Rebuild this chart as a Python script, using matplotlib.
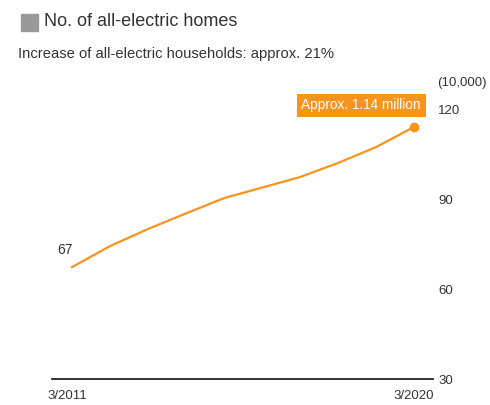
import matplotlib.pyplot as plt
import matplotlib.transforms as mtrans
from matplotlib.patches import Rectangle

years = [2011, 2012, 2013, 2014, 2015, 2016, 2017, 2018, 2019, 2020]
homes = [67.3, 74.3, 80.0, 85.2, 90.3, 93.8, 97.3, 102.0, 107.3, 114.0]
x_labels = ['3/2011', '3/2020']
y_ticks = [30, 60, 90, 120]

orange = '#F7941D'
text_col = '#333333'
plt.rcParams['font.family'] = ['Liberation Sans Narrow', 'Liberation Sans', 'DejaVu Sans']

fig = plt.figure(figsize=(4.9, 4.05), dpi=100)
ax = fig.add_axes([52 / 490, 26 / 405, 381 / 490, 285 / 405])

ax.plot(years, homes, color=orange, lw=1.6)
ax.plot(years[-1], homes[-1], 'o', color=orange, ms=6)

ax.set_xlim(2011 - 20 / 38, 2020 + 19 / 38)
ax.set_ylim(30, 125)

for s in ['top', 'left', 'right']:
    ax.spines[s].set_visible(False)
ax.spines['bottom'].set_color('#222222')
ax.spines['bottom'].set_linewidth(1.3)

ax.yaxis.tick_right()
ax.set_yticks(y_ticks)
ax.set_yticklabels([str(v) for v in y_ticks], fontsize=9.5, color=text_col)
ax.tick_params(axis='y', length=0, pad=3.6)
ax.set_xticks([years[0], years[-1]])
ax.set_xticklabels(x_labels, fontsize=9.5, color=text_col)
ax.tick_params(axis='x', length=0, pad=8)
first = ax.get_xticklabels()[0]
first.set_transform(first.get_transform() + mtrans.ScaledTranslation(-5 / 100, 0, fig.dpi_scale_trans))

# first value label
ax.annotate('67', (years[0], homes[0]), textcoords='offset points', xytext=(-5, 7.5),
            ha='center', va='bottom', fontsize=10, color=text_col)

# last value callout
ax.annotate('Approx. 1.14 million', (years[-1], homes[-1]), textcoords='offset points',
            xytext=(5, 10.5), ha='right', va='bottom', fontsize=9.8, color='white',
            bbox=dict(boxstyle='square,pad=0.35', fc=orange, ec='none'))

fig.text(437 / 490, 1 - 83 / 405, '(10,000)', fontsize=9.5, color=text_col, va='center')

# title with grey square
fig.patches.append(Rectangle((21 / 490, 1 - 31 / 405), 17 / 490, 17 / 405,
                             transform=fig.transFigure, color='#999999'))
fig.text(44 / 490, 1 - 22 / 405, 'No. of all-electric homes', fontsize=13,
         color=text_col, va='center')
fig.text(18 / 490, 1 - 54 / 405, 'Increase of all-electric households: approx. 21%',
         fontsize=10.6, color=text_col, va='center')

fig.savefig('out.png', dpi=100)
